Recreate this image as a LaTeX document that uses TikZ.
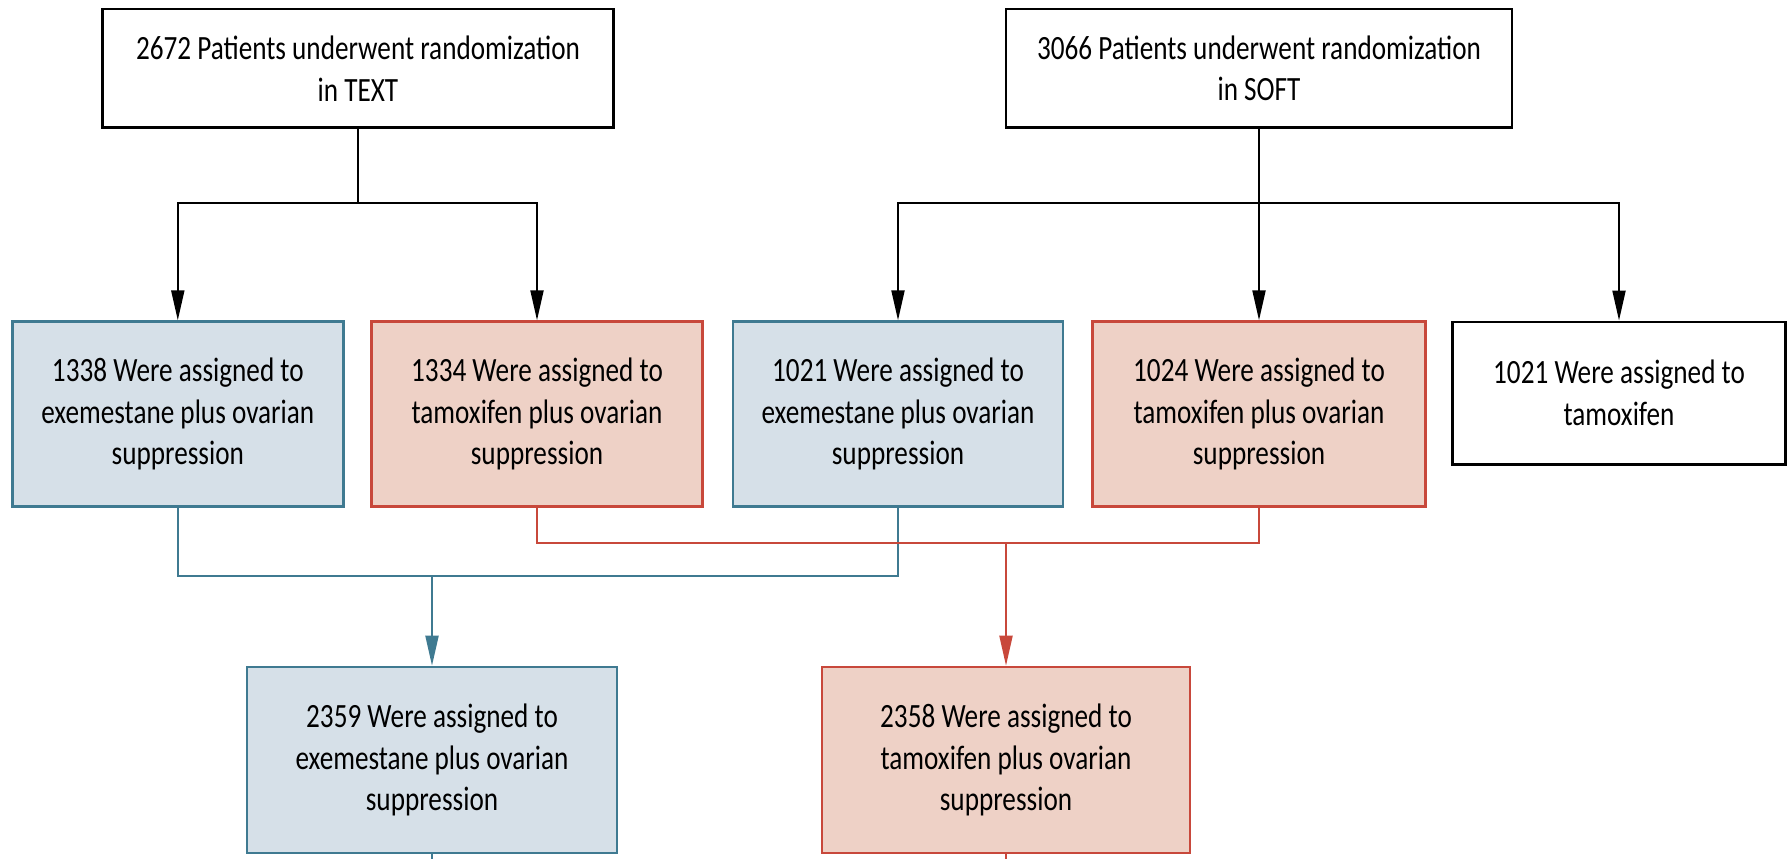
\documentclass[tikz,border=0pt]{standalone}
\usepackage{fontspec}
\setmainfont{Carlito}[FakeStretch=0.8]
\usetikzlibrary{arrows.meta}
\definecolor{tealblue}{HTML}{3F7A91}
\definecolor{paleblue}{HTML}{D6E0E8}
\definecolor{brick}{HTML}{C8483B}
\definecolor{palered}{HTML}{EED1C6}
\begin{document}
\begin{tikzpicture}[x=0.5pt,y=-0.5pt,
	every node/.style={align=center,font=\fontsize{17}{20.8}\selectfont,inner sep=0pt},
	bkbox/.style={draw=black,line width=1.3pt,fill=white},
	blbox/.style={draw=tealblue,line width=1.3pt,fill=paleblue},
	rdbox/.style={draw=brick,line width=1.3pt,fill=palered},
	bkline/.style={draw=black,line width=1pt},
	blline/.style={draw=tealblue,line width=1pt},
	rdline/.style={draw=brick,line width=1pt},
	tip/.style={-{Triangle[length=15pt,width=6.5pt]}}]
	\useasboundingbox (0,0) rectangle (1788,859);
	
	% the two trials
	\node[bkbox,minimum width=255.5pt,minimum height=59.3pt] (text) at (358,68.4){2672 Patients underwent randomization\\in TEXT};
	\node[bkbox,minimum width=253pt,minimum height=59.3pt] (soft) at (1259,68.4){3066 Patients underwent randomization\\in SOFT};
	
	% arms
	\node[blbox,minimum width=165.5pt,minimum height=92.4pt] (b1) at (177.8,414){1338 Were assigned to\\exemestane plus ovarian\\suppression};
	\node[rdbox,minimum width=165.5pt,minimum height=92.4pt] (b2) at (537,414){1334 Were assigned to\\tamoxifen plus ovarian\\suppression};
	\node[blbox,minimum width=165pt,minimum height=92.4pt] (b3) at (898,414){1021 Were assigned to\\exemestane plus ovarian\\suppression};
	\node[rdbox,minimum width=166.5pt,minimum height=92.4pt] (b4) at (1259,414){1024 Were assigned to\\tamoxifen plus ovarian\\suppression};
	\node[bkbox,minimum width=166.5pt,minimum height=71.2pt] (b5) at (1619,393){1021 Were assigned to\\tamoxifen};
	
	% pooled groups
	\node[blbox,minimum width=185pt,minimum height=93pt] (b6) at (432,760){2359 Were assigned to\\exemestane plus ovarian\\suppression};
	\node[rdbox,minimum width=184pt,minimum height=93pt] (b7) at (1006,760){2358 Were assigned to\\tamoxifen plus ovarian\\suppression};
	
	\coordinate (tsplit) at (358,203);
	\coordinate (ssplit) at (1259,203);
	\coordinate (bjoin) at (432,576);
	\coordinate (rjoin) at (1006,543);
	\coordinate (b6tail) at (432,859);
	\coordinate (b7tail) at (1006,859);
	
	\draw[bkline] (text.south) -- (tsplit);
	\draw[bkline,tip] (tsplit) -| (b1.north);
	\draw[bkline,tip] (tsplit) -| (b2.north);
	
	\draw[bkline,tip] (soft.south) -- (b4.north);
	\draw[bkline,tip] (ssplit) -| (b3.north);
	\draw[bkline,tip] (ssplit) -| (b5.north);
	
	\draw[blline] (b1.south) |- (bjoin) -| (b3.south);
	\draw[blline,tip] (bjoin) -- (b6.north);
	\draw[rdline] (b2.south) |- (rjoin) -| (b4.south);
	\draw[rdline,tip] (rjoin) -- (b7.north);
	
	\draw[blline] (b6.south) -- (b6tail);
	\draw[rdline] (b7.south) -- (b7tail);
\end{tikzpicture}
\end{document}
